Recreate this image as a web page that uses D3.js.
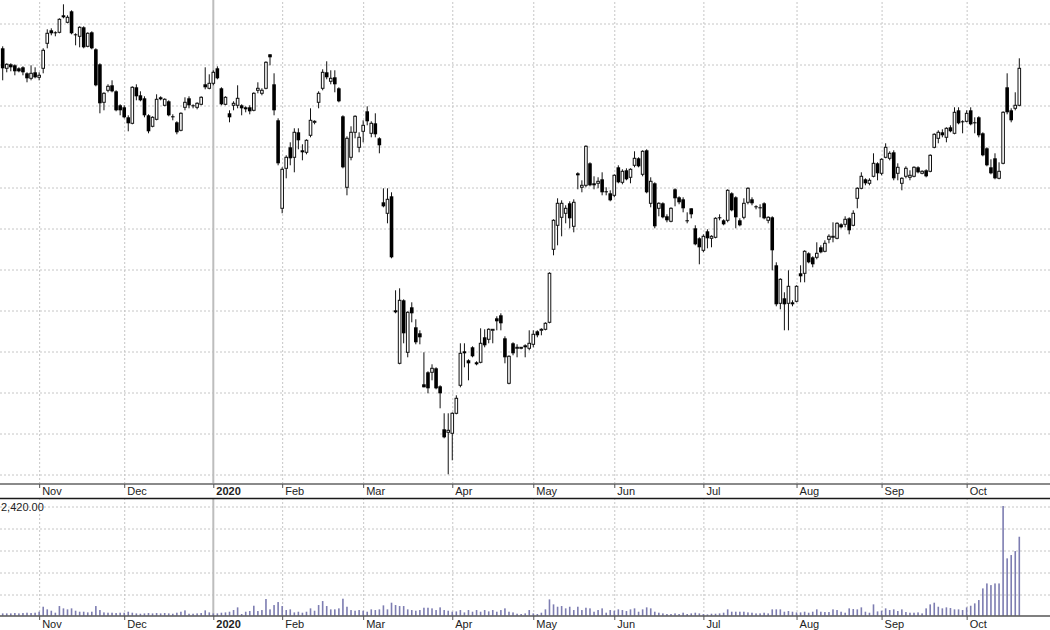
<!DOCTYPE html>
<html><head><meta charset="utf-8">
<script src="https://cdn.jsdelivr.net/npm/d3@7"></script>
<style>
body{margin:0;background:#fff}
svg{display:block}
text{font-family:Arial,"Liberation Sans",sans-serif}
</style>
</head><body>
<svg id="chart" width="1050" height="630"></svg>
<script>
// ---- data (daily candles, price in chart units, volume) ----
const opens = [
426,406,410,409,406,407,401,396,402,397, 406,431,444,442,442,459,452,463,440,438,
447,428,442,425,410,372,384,389,383,369, 367,357,351,387,379,376,359,348,355,377,
369,373,358,352,344,367,376,369,367,370, 390,386,391,406,386,370,361,369,369,369,
367,367,364,384,381,386,420,390,354,266, 306,327,317,342,324,322,339,352,372,386,
402,393,397,386,358,287,317,342,327,343, 363,341,351,336,272,261,278,164,111,174,
122,167,147,141,90,102,102,106,88,45, 42,41,61,89,123,114,127,112,112,137,
135,144,156,159,136,91,131,126,126,129, 126,130,143,145,145,152,225,249,257,261,
271,248,301,287,289,311,291,291,295,283, 281,279,307,292,304,297,309,316,300,324,
271,291,266,271,258,253,285,277,275,254, 266,246,236,224,243,236,237,257,254,254,
281,277,254,257,272,275,268,267,271,254, 257,209,171,176,171,172,173,201,201,221,
217,217,227,223,235,238,236,250,250,256, 249,276,286,295,291,298,311,301,317,316,
322,301,291,298,297,298,307,301,304,303, 327,336,342,337,347,341,364,353,353,364,
352,357,341,326,307,316,296,311,387,364, 366,369];
const highs = [
428,411,411,410,407,408,402,409,407,402, 426,445,446,443,456,470,459,464,441,448,
448,442,443,426,411,382,390,394,384,370, 369,359,388,390,383,378,360,358,380,378,
376,374,360,353,362,377,378,370,372,378, 407,400,404,408,387,378,364,373,389,370,
368,369,382,392,386,413,420,401,356,307, 319,332,346,346,330,335,366,354,383,405,
413,404,404,387,359,338,348,359,342,354, 368,353,361,337,286,286,282,184,186,175,
163,172,155,144,122,103,110,107,89,61, 61,62,79,131,131,115,128,113,146,145,
146,145,158,161,138,119,132,130,127,130, 144,144,144,146,152,202,255,276,274,269,
273,275,302,294,329,312,298,297,302,287, 284,300,309,305,306,306,323,317,324,325,
297,292,272,272,260,267,286,278,277,262, 266,249,237,240,245,239,257,260,255,285,
282,278,256,276,287,277,269,270,272,258, 258,212,196,182,204,174,189,209,224,222,
218,232,229,234,240,252,252,251,258,257, 264,287,302,296,296,321,312,316,331,323,
324,311,297,308,304,308,308,304,305,320, 341,344,345,347,349,367,367,354,364,367,
357,358,342,327,315,321,312,363,401,366, 382,416];
const lows = [
394,402,403,399,402,399,392,394,396,394, 401,426,439,438,441,456,451,440,429,427,
426,427,425,388,361,364,382,382,363,359, 356,343,350,374,373,357,341,347,354,374,
368,358,354,340,343,364,366,366,365,369, 385,385,389,395,369,369,352,364,366,359,
362,360,363,381,379,385,409,359,309,261, 296,309,302,325,314,320,337,350,366,384,
395,390,382,372,306,279,314,336,322,332, 349,337,337,321,267,251,216,161,110,131,
117,152,130,130,87,81,94,85,66,36, 0,14,60,87,107,94,117,109,111,127,
131,131,144,144,111,90,119,117,125,117, 124,127,137,139,144,151,219,229,238,251,
246,242,285,282,287,288,285,286,279,279, 273,277,291,290,294,291,307,307,298,281,
267,246,258,256,252,252,268,270,262,251, 256,229,210,222,226,227,236,254,249,252,
263,246,248,255,270,269,265,257,255,251, 204,168,165,144,144,168,172,192,192,211,
207,215,221,222,231,232,235,246,247,240, 248,266,285,289,289,297,294,299,316,314,
294,294,284,296,294,297,301,300,297,302, 326,331,337,332,342,340,350,341,352,349,
341,337,318,308,300,295,295,310,360,352, 364,368];
const closes = [
406,410,407,403,403,402,396,401,397,399, 424,441,441,441,455,457,457,441,439,447,
427,441,426,389,371,381,388,383,364,364, 357,351,387,378,374,359,343,357,375,375,
375,359,357,342,361,372,369,368,371,377, 387,391,402,396,370,377,357,371,376,366,
365,363,381,386,384,412,417,364,311,305, 317,316,342,334,322,334,354,353,381,402,
397,396,390,373,307,336,342,358,337,349, 353,351,340,329,268,275,217,162,174,141,
162,161,132,137,87,86,106,86,81,37, 44,61,76,121,121,111,118,110,131,129,
145,145,153,151,117,118,121,127,127,127, 131,140,139,145,151,201,254,271,271,266,
256,272,299,289,328,289,289,293,282,282, 274,299,292,303,295,305,316,308,323,282,
293,248,271,257,254,266,276,272,266,253, 260,230,227,238,236,238,256,256,250,284,
264,257,249,271,286,271,267,266,256,257, 224,170,195,170,188,170,188,198,223,212,
210,221,222,231,238,238,251,247,255,244, 261,286,298,291,294,311,301,315,327,321,
296,307,296,306,299,307,302,303,298,319, 340,342,339,346,343,362,351,352,361,350,
351,339,319,309,301,296,303,362,362,354, 369,406];
const volumes = [
51,51,51,59,51,59,66,59,66,88, 198,140,110,66,213,162,140,162,110,88,
88,73,88,213,125,73,66,66,59,66, 66,88,66,51,44,51,59,51,59,51,
59,51,44,66,88,118,44,44,51,59, 118,73,51,51,66,73,88,125,184,37,
88,103,220,103,125,368,140,235,301,213, 125,140,73,88,66,88,162,110,235,323,
213,140,140,162,375,198,125,110,125,110, 88,140,125,140,228,140,287,235,213,213,
140,125,110,125,176,176,162,125,184,125, 110,88,95,125,73,125,88,125,88,125,
95,125,88,125,162,88,73,44,37,51, 125,51,37,66,140,360,250,198,213,162,
198,125,198,125,176,162,88,125,162,66, 125,110,140,125,103,140,162,88,140,184,
162,88,66,51,37,37,51,37,66,37, 51,66,51,37,29,44,44,51,66,140,
88,88,88,88,73,66,51,51,66,51, 140,140,140,88,103,88,73,73,88,66,
88,140,88,81,81,140,125,88,66,162, 147,140,184,88,66,250,95,110,162,125,
140,103,140,81,66,66,73,51,162,250, 287,198,162,184,169,140,140,125,184,220,
272,345,602,712,675,712,712,2420,1265,1338, 1426,1742];

const monthLabels   = ["Nov","Dec","2020","Feb","Mar","Apr","May","Jun","Jul","Aug","Sep","Oct"];
const monthStartIdx = [9,30,52,69,89,111,131,151,173,196,217,238];
const yearLabel = "2020";
const priceGrid = d3.range(0, 452, 41);
const volumeMax = 2420;
const volumeGrid = d3.range(0, volumeMax + 1, volumeMax / 5);

// ---- layout ----
const W = 1050;
const mainBottom = 484, volTop = 498.5, volBase = 616;
const svg = d3.select("#chart");
const N = opens.length;

const x = d3.scaleLinear().domain([0, N - 1]).range([2.7, 1019.3]);
const y = d3.scaleLinear().domain([-9.7, 474.3]).range([mainBottom, 0]);
const yv = d3.scaleLinear().domain([0, volumeMax]).range([615.7, 506]);

const gridColor = "#c6c6c6";
const yearIdx = monthStartIdx[monthLabels.indexOf(yearLabel)];

// horizontal grid (main)
svg.append("g").call(d3.axisRight(y).tickValues(priceGrid).tickSize(W).tickFormat(""))
  .call(g => g.select(".domain").remove())
  .call(g => g.selectAll("line").attr("stroke", gridColor).attr("stroke-dasharray", "2,2")
     .attr("transform", d => `translate(0,${Math.round(y(d)) + 0.5 - y(d)})`));

// horizontal grid (volume)
svg.append("g").call(d3.axisRight(yv).tickValues(volumeGrid.filter(v => v > 0)).tickSize(W).tickFormat(""))
  .call(g => g.select(".domain").remove())
  .call(g => g.selectAll("line").attr("stroke", gridColor).attr("stroke-dasharray", "2,2")
     .attr("transform", d => `translate(0,${Math.round(yv(d)) + 0.5 - yv(d)})`));

// vertical grid
const monthGridIdx = monthStartIdx.filter(d => d !== yearIdx);
[[0, mainBottom], [volTop, volBase]].forEach(([t, b]) => {
  svg.append("g").attr("transform", `translate(0,${b})`)
    .call(d3.axisBottom(x).tickValues(monthGridIdx).tickSize(-(b - t)).tickFormat(""))
    .call(g => g.select(".domain").remove())
    .call(g => g.selectAll("line").attr("stroke", gridColor).attr("stroke-dasharray", "2,2"));
  svg.append("line").attr("x1", x(yearIdx)).attr("x2", x(yearIdx)).attr("y1", t).attr("y2", b)
    .attr("stroke", "#bdbdbd").attr("stroke-width", 2);
});

// candles
const idx = d3.range(N);
const cg = svg.append("g");
cg.selectAll("line.wick").data(idx).join("line").attr("class", "wick")
  .attr("x1", i => x(i)).attr("x2", i => x(i))
  .attr("y1", i => y(highs[i])).attr("y2", i => y(lows[i]))
  .attr("stroke", "#111").attr("stroke-width", 1);
cg.selectAll("rect.body").data(idx).join("rect").attr("class", "body")
  .attr("x", i => closes[i] >= opens[i] ? x(i) - 1.3 : x(i) - 1.8)
  .attr("width", i => closes[i] >= opens[i] ? 2.6 : 3.6)
  .attr("y", i => y(Math.max(opens[i], closes[i])))
  .attr("height", i => Math.max(1, Math.abs(y(opens[i]) - y(closes[i]))))
  .attr("fill", i => closes[i] >= opens[i] ? "#fff" : "#000")
  .attr("stroke", i => closes[i] >= opens[i] ? "#111" : "none")
  .attr("stroke-width", 1);

// volume bars
svg.append("g").selectAll("rect").data(idx).join("rect")
  .attr("x", i => x(i) - 0.8).attr("width", 1.6)
  .attr("y", i => yv(volumes[i])).attr("height", i => yv(0) - yv(volumes[i]))
  .attr("fill", "#7d7db1");

// axis lines
svg.append("line").attr("x1", 0).attr("x2", W).attr("y1", mainBottom).attr("y2", mainBottom)
  .attr("stroke", "#8a8a8a").attr("stroke-width", 2);
svg.append("line").attr("x1", 0).attr("x2", W).attr("y1", volTop).attr("y2", volTop)
  .attr("stroke", "#1a1a1a").attr("stroke-width", 1.5);
svg.append("line").attr("x1", 0).attr("x2", W).attr("y1", volBase).attr("y2", volBase)
  .attr("stroke", "#555").attr("stroke-width", 1.5);

// month axes
[[mainBottom, 3], [volBase, 4]].forEach(([yy, ty]) => {
  svg.append("g").attr("transform", `translate(0,${yy})`)
    .call(d3.axisBottom(x).tickValues(monthStartIdx).tickSize(4)
      .tickFormat((d, i) => monthLabels[i]))
    .call(g => g.select(".domain").remove())
    .call(g => g.selectAll("line").attr("stroke", "#555"))
    .call(g => g.selectAll("text")
      .attr("text-anchor", "start").attr("x", 2.5).attr("y", ty).attr("dy", "0.71em")
      .attr("font-size", 11).attr("fill", "#222")
      .attr("font-family", "Arial, 'Liberation Sans', sans-serif")
      .attr("font-weight", d => d === yearIdx ? "bold" : "normal"));
});

// volume max label
svg.append("text").attr("x", 1).attr("y", 510.5).attr("font-size", 11).attr("fill", "#222")
  .text(d3.format(",.2f")(volumeMax));
</script>
</body></html>
